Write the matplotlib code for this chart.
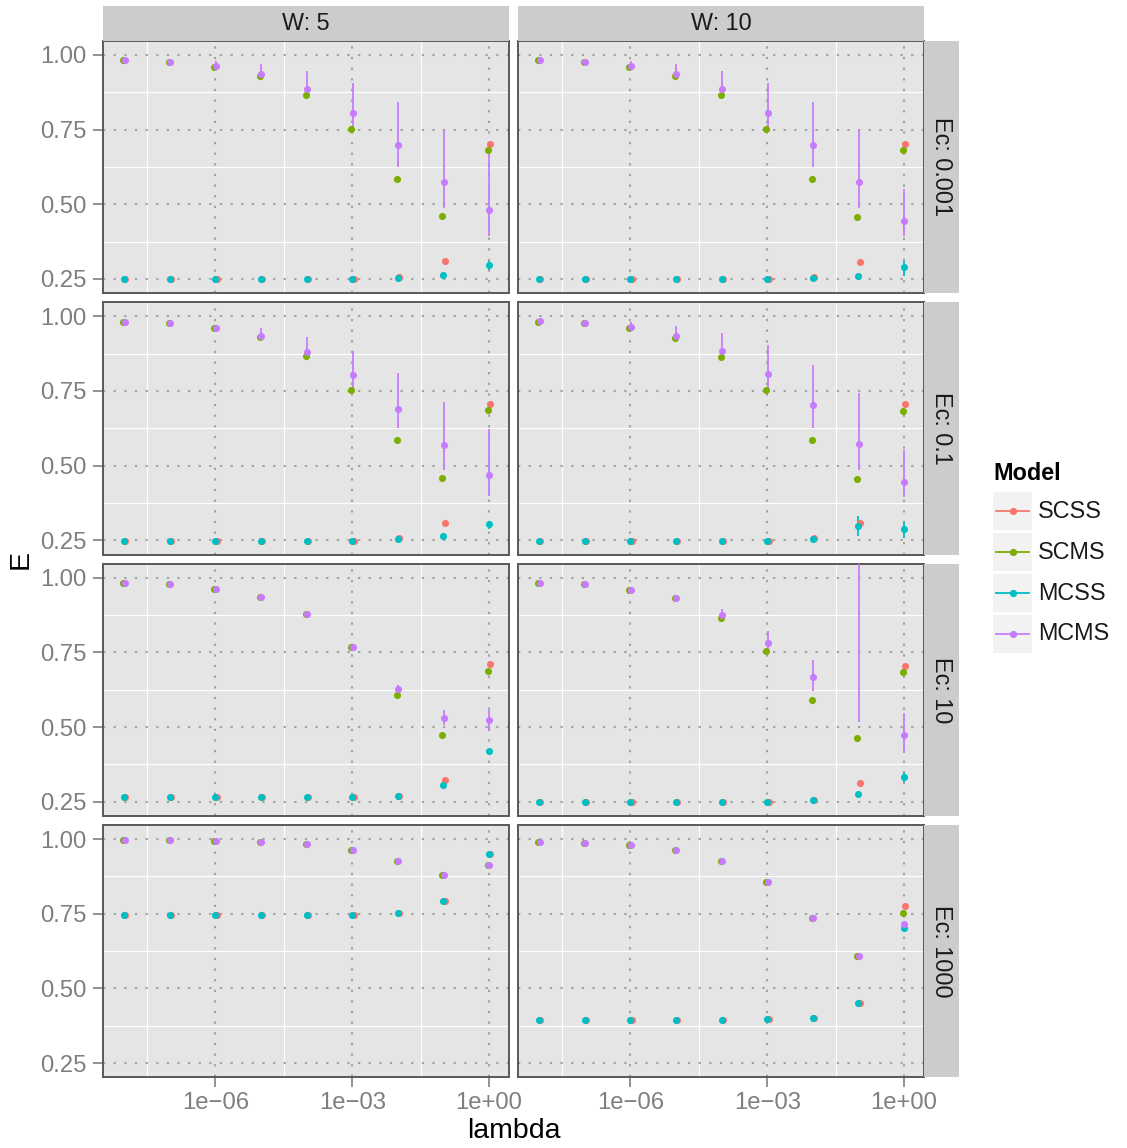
import numpy as np
import matplotlib.pyplot as plt
from matplotlib.lines import Line2D
from matplotlib.patches import Rectangle

plt.rcParams['font.family'] = ['Liberation Sans', 'DejaVu Sans']

nan = np.nan

# x values: log10(lambda)
lam_exp = [-8, -7, -6, -5, -4, -3, -2, -1, 0]
W_vals = ["5", "10"]
Ec_vals = ["0.001", "0.1", "10", "1000"]
models = ["SCSS", "SCMS", "MCSS", "MCMS"]

# one list per panel, order: (Ec 0.001, W 5), (Ec 0.001, W 10), (Ec 0.1, W 5), ...
scss = [
    [0.249, 0.249, 0.249, 0.249, 0.249, 0.249, 0.2545, 0.308, 0.703],
    [0.249, 0.249, 0.249, 0.249, 0.249, 0.249, 0.2545, 0.307, 0.703],
    [0.249, 0.249, 0.249, 0.249, 0.249, 0.249, 0.256, 0.309, 0.705],
    [0.249, 0.249, 0.249, 0.249, 0.249, 0.249, 0.256, 0.309, 0.705],
    [0.264, 0.264, 0.264, 0.264, 0.264, 0.264, 0.270, 0.321, 0.712],
    [0.249, 0.249, 0.249, 0.249, 0.249, 0.249, 0.256, 0.311, 0.705],
    [0.7475, 0.7475, 0.7475, 0.7475, 0.7475, 0.7475, 0.751, 0.793, 0.951],
    [0.394, 0.394, 0.394, 0.394, 0.394, 0.398, 0.401, 0.451, 0.777],
]
scms = [
    [0.983, 0.978, 0.961, 0.930, 0.866, 0.752, 0.586, 0.459, 0.683],
    [0.983, 0.977, 0.961, 0.930, 0.866, 0.752, 0.585, 0.458, 0.682],
    [0.982, 0.9765, 0.962, 0.930, 0.866, 0.754, 0.587, 0.459, 0.685],
    [0.982, 0.977, 0.962, 0.928, 0.865, 0.754, 0.587, 0.456, 0.684],
    [0.983, 0.978, 0.964, 0.934, 0.877, 0.7665, 0.606, 0.474, 0.688],
    [0.984, 0.978, 0.960, 0.931, 0.866, 0.754, 0.589, 0.4615, 0.683],
    [0.998, 0.998, 0.994, 0.991, 0.984, 0.964, 0.927, 0.880, 0.915],
    [0.991, 0.988, 0.981, 0.964, 0.927, 0.857, 0.736, 0.609, 0.753],
]
mcss = [
    [0.249, 0.249, 0.249, 0.249, 0.249, 0.249, 0.252, 0.262, 0.295],
    [0.249, 0.249, 0.249, 0.249, 0.249, 0.249, 0.252, 0.261, 0.288],
    [0.249, 0.249, 0.249, 0.249, 0.249, 0.249, 0.253, 0.263, 0.305],
    [0.249, 0.249, 0.249, 0.249, 0.249, 0.249, 0.253, 0.299, 0.289],
    [0.264, 0.264, 0.264, 0.264, 0.264, 0.264, 0.270, 0.307, 0.420],
    [0.249, 0.249, 0.249, 0.249, 0.249, 0.249, 0.256, 0.274, 0.331],
    [0.7475, 0.7475, 0.7475, 0.7475, 0.7475, 0.7475, 0.751, 0.793, 0.951],
    [0.394, 0.394, 0.394, 0.394, 0.394, 0.398, 0.401, 0.451, 0.703],
]
mcms = [
    [0.983, 0.978, 0.964, 0.9375, 0.887, 0.807, 0.700, 0.573, 0.479],
    [0.983, 0.977, 0.963, 0.9375, 0.887, 0.807, 0.700, 0.575, 0.445],
    [0.982, 0.9765, 0.962, 0.935, 0.882, 0.802, 0.690, 0.568, 0.470],
    [0.985, 0.979, 0.965, 0.935, 0.885, 0.808, 0.702, 0.573, 0.446],
    [0.983, 0.978, 0.964, 0.934, 0.877, 0.7665, 0.626, 0.531, 0.522],
    [0.984, 0.978, 0.960, 0.931, 0.874, 0.782, 0.666, nan, 0.474],
    [0.998, 0.998, 0.994, 0.991, 0.984, 0.964, 0.927, 0.880, 0.915],
    [0.991, 0.988, 0.981, 0.964, 0.927, 0.857, 0.736, 0.609, 0.716],
]

# error ranges (nan = no visible range)
mcss_lo = [
    [nan] * 8 + [0.280],
    [nan] * 8 + [0.258],
    [nan] * 8 + [0.287],
    [nan] * 7 + [0.263, 0.258],
    [nan] * 9,
    [nan] * 8 + [0.317],
    [nan] * 9,
    [nan] * 9,
]
mcss_hi = [
    [nan] * 8 + [0.310],
    [nan] * 8 + [0.310],
    [nan] * 8 + [0.312],
    [nan] * 7 + [0.330, 0.311],
    [nan] * 9,
    [nan] * 8 + [0.349],
    [nan] * 9,
    [nan] * 9,
]
mcms_lo = [
    [nan, nan, 0.950, 0.922, 0.857, 0.758, 0.626, 0.487, 0.395],
    [nan, nan, 0.950, 0.920, 0.857, 0.758, 0.626, 0.487, 0.395],
    [nan, nan, nan, 0.922, 0.855, 0.756, 0.625, 0.486, 0.397],
    [nan, nan, 0.950, 0.922, 0.858, 0.754, 0.625, 0.486, 0.394],
    [nan, nan, nan, nan, nan, nan, 0.608, 0.507, 0.488],
    [nan, nan, nan, nan, 0.859, 0.753, 0.619, 0.516, 0.412],
    [nan] * 9,
    [nan] * 9,
]
mcms_hi = [
    [nan, nan, 0.980, 0.969, 0.945, 0.906, 0.843, 0.749, 0.682],
    [nan, nan, 0.980, 0.969, 0.946, 0.906, 0.843, 0.749, 0.551],
    [nan, nan, nan, 0.961, 0.931, 0.883, 0.811, 0.712, 0.622],
    [nan, nan, 0.980, 0.968, 0.943, 0.903, 0.838, 0.743, 0.552],
    [nan, nan, nan, nan, nan, nan, 0.641, 0.556, 0.556],
    [nan, nan, nan, nan, 0.895, 0.821, 0.726, 1.200, 0.546],
    [nan] * 9,
    [nan] * 9,
]

values = {"SCSS": scss, "SCMS": scms, "MCSS": mcss, "MCMS": mcms}
ranges = {"MCSS": (mcss_lo, mcss_hi), "MCMS": (mcms_lo, mcms_hi)}
colors = {"SCSS": "#F8766D", "SCMS": "#7CAE00", "MCSS": "#00BFC4", "MCMS": "#C77CFF"}
shift = {"SCSS": 0.03, "SCMS": -0.02, "MCSS": 0.0, "MCMS": 0.01}  # small horizontal offset (decades)

W_PX, H_PX = 1127, 1148
fig = plt.figure(figsize=(W_PX / 100, H_PX / 100), dpi=100)


def px_axes(x0, y0, w, h):
    return fig.add_axes([x0 / W_PX, 1 - (y0 + h) / H_PX, w / W_PX, h / H_PX])


col_x = [103.3, 518.3]
col_w = 406.0
row_y = [40.7, 302.1, 563.5, 824.9]
row_h = 252.4
strip_sz = 34.7

for r, ec in enumerate(Ec_vals):
    for c, w in enumerate(W_vals):
        k = r * 2 + c
        ax = px_axes(col_x[c], row_y[r], col_w, row_h)
        ax.set_facecolor('#E5E5E5')
        ax.set_xscale('log')
        ax.set_xlim(10 ** -8.456, 10 ** 0.445)
        ax.set_ylim(0.2021, 1.0479)
        ax.set_xticks([1e-6, 1e-3, 1e0], ['1e\u221206', '1e\u221203', '1e+00'])
        ax.set_xticks([10 ** -7.5, 10 ** -4.5, 10 ** -1.5], ['', '', ''], minor=True)
        ax.set_yticks([0.25, 0.5, 0.75, 1.0], ['0.25', '0.50', '0.75', '1.00'])
        ax.set_yticks([0.375, 0.625, 0.875], minor=True)
        ax.grid(which='minor', color='white', linewidth=0.8)
        ax.grid(which='major', color='#A3A3A3', linestyle=(0, (1.1, 4)), linewidth=1.5)
        ax.set_axisbelow(True)
        for sp in ax.spines.values():
            sp.set_color('#595959')
            sp.set_linewidth(1.4)
        ax.tick_params(which='minor', length=0)
        ax.tick_params(which='major', length=7, width=1.2, color='#7F7F7F',
                       labelcolor='#7F7F7F', labelsize=17.2)
        ax.tick_params(axis='y', pad=5)
        ax.tick_params(axis='x', pad=3.5)
        if r < 3:
            ax.tick_params(axis='x', length=0, labelbottom=False)
        if c > 0:
            ax.tick_params(axis='y', length=0, labelleft=False)

        for m in models:
            xs = 10 ** (np.array(lam_exp, dtype=float) + shift[m])
            if m in ranges:
                lo, hi = ranges[m]
                ax.vlines(xs, lo[k], hi[k], color=colors[m], linewidth=1.3, zorder=3)
            ax.scatter(xs, values[m][k], s=26, color=colors[m], linewidths=0, zorder=4)

        # strips
        if r == 0:
            sa = px_axes(col_x[c], 6.0, col_w, strip_sz)
            sa.set_facecolor('#CCCCCC')
            sa.set_xticks([]); sa.set_yticks([])
            for sp in sa.spines.values():
                sp.set_visible(False)
            sa.text(0.5, 0.5, f'W: {w}', ha='center', va='center', fontsize=16.8,
                    color='#1A1A1A', transform=sa.transAxes)
        if c == 1:
            sa = px_axes(col_x[c] + col_w, row_y[r], strip_sz, row_h)
            sa.set_facecolor('#CCCCCC')
            sa.set_xticks([]); sa.set_yticks([])
            for sp in sa.spines.values():
                sp.set_visible(False)
            sa.text(0.5, 0.5, f'Ec: {ec}', ha='center', va='center', fontsize=16.8,
                    color='#1A1A1A', rotation=270, transform=sa.transAxes)

# axis titles
fig.text(513.5 / W_PX, 1 - 1131 / H_PX, 'lambda', ha='center', va='center', fontsize=20.5)
fig.text(21 / W_PX, 1 - 559 / H_PX, 'E', ha='center', va='center', fontsize=20.5, rotation=90)

# legend
fig.text(993 / W_PX, 1 - 474 / H_PX, 'Model', ha='left', va='center', fontsize=16.8,
         fontweight='bold')
key_top = 492.3
key_h = 37.8
key_step = 40.9
for i, m in enumerate(models):
    y0 = key_top + i * key_step
    fig.patches.append(Rectangle((993.3 / W_PX, 1 - (y0 + key_h) / H_PX), 38.4 / W_PX,
                                 key_h / H_PX, transform=fig.transFigure,
                                 facecolor='#F2F2F2', edgecolor='none'))
    yc = 1 - (y0 + key_h / 2) / H_PX
    fig.lines.append(Line2D([996 / W_PX, 1029 / W_PX], [yc, yc], transform=fig.transFigure,
                            color=colors[m], linewidth=1.3))
    fig.lines.append(Line2D([1012.5 / W_PX], [yc], transform=fig.transFigure, marker='o',
                            markersize=5.2, markeredgewidth=0, color=colors[m]))
    fig.text(1038 / W_PX, yc, m, ha='left', va='center', fontsize=16.8, color='#1A1A1A')

fig.savefig('out.png', dpi=100)
